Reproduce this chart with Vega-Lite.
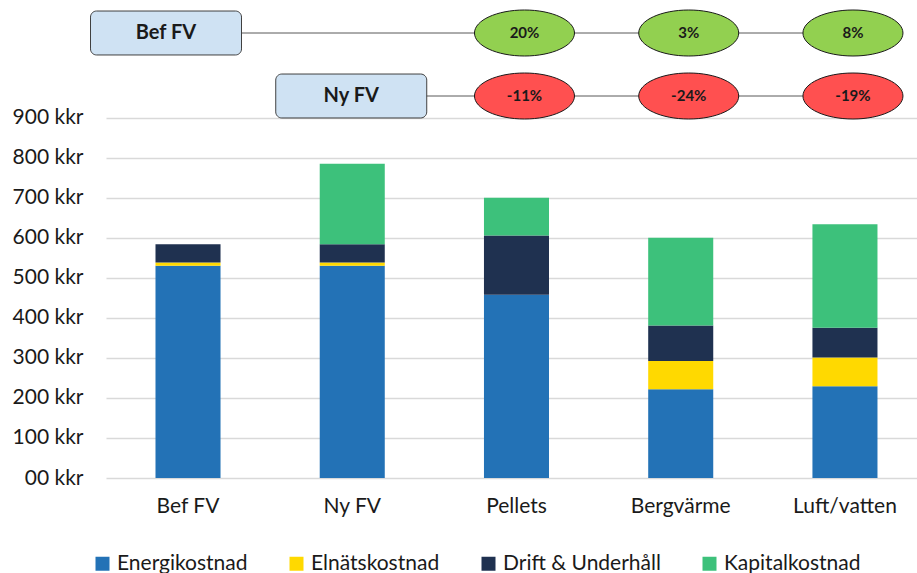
{
  "$schema": "https://vega.github.io/schema/vega-lite/v6.json",
  "width": 811,
  "height": 478,
  "autosize": {"type": "none"},
  "padding": {"left": 106, "top": 0, "right": 0, "bottom": 95},
  "background": "white",
  "config": {"font": "Lato", "view": {"stroke": null}},
  "datasets": {
    "bars": [
      {"cat": "Bef FV", "komp": "Energikostnad", "ord": 1, "kkr": 530},
      {"cat": "Bef FV", "komp": "Elnätskostnad", "ord": 2, "kkr": 8},
      {"cat": "Bef FV", "komp": "Drift & Underhåll", "ord": 3, "kkr": 46},
      {"cat": "Bef FV", "komp": "Kapitalkostnad", "ord": 4, "kkr": 0},
      {"cat": "Ny FV", "komp": "Energikostnad", "ord": 1, "kkr": 530},
      {"cat": "Ny FV", "komp": "Elnätskostnad", "ord": 2, "kkr": 8},
      {"cat": "Ny FV", "komp": "Drift & Underhåll", "ord": 3, "kkr": 46},
      {"cat": "Ny FV", "komp": "Kapitalkostnad", "ord": 4, "kkr": 201},
      {"cat": "Pellets", "komp": "Energikostnad", "ord": 1, "kkr": 458},
      {"cat": "Pellets", "komp": "Elnätskostnad", "ord": 2, "kkr": 0},
      {"cat": "Pellets", "komp": "Drift & Underhåll", "ord": 3, "kkr": 148},
      {"cat": "Pellets", "komp": "Kapitalkostnad", "ord": 4, "kkr": 94},
      {"cat": "Bergvärme", "komp": "Energikostnad", "ord": 1, "kkr": 222},
      {"cat": "Bergvärme", "komp": "Elnätskostnad", "ord": 2, "kkr": 70},
      {"cat": "Bergvärme", "komp": "Drift & Underhåll", "ord": 3, "kkr": 89},
      {"cat": "Bergvärme", "komp": "Kapitalkostnad", "ord": 4, "kkr": 219},
      {"cat": "Luft/vatten", "komp": "Energikostnad", "ord": 1, "kkr": 229},
      {"cat": "Luft/vatten", "komp": "Elnätskostnad", "ord": 2, "kkr": 72},
      {"cat": "Luft/vatten", "komp": "Drift & Underhåll", "ord": 3, "kkr": 74},
      {"cat": "Luft/vatten", "komp": "Kapitalkostnad", "ord": 4, "kkr": 259}
    ],
    "boxes": [
      {"row": "Bef FV", "label": "Bef FV"},
      {"row": "Ny FV", "label": "Ny FV"}
    ],
    "ann": [
      {"row": "Bef FV", "cat": "Pellets", "label": "20%"},
      {"row": "Bef FV", "cat": "Bergvärme", "label": "3%"},
      {"row": "Bef FV", "cat": "Luft/vatten", "label": "8%"},
      {"row": "Ny FV", "cat": "Pellets", "label": "-11%"},
      {"row": "Ny FV", "cat": "Bergvärme", "label": "-24%"},
      {"row": "Ny FV", "cat": "Luft/vatten", "label": "-19%"}
    ]
  },
  "resolve": {"scale": {"y": "independent"}},
  "layer": [
    {
      "data": {"name": "bars"},
      "mark": {"type": "bar"},
      "encoding": {
        "x": {
          "field": "cat", "type": "nominal", "title": null,
          "scale": {"domain": ["Bef FV", "Ny FV", "Pellets", "Bergvärme", "Luft/vatten"], "paddingInner": 0.604, "paddingOuter": 0.271, "align": 0.556},
          "axis": {"labelAngle": 0, "domain": false, "ticks": false, "labelPadding": 17, "labelFontSize": 21, "labelColor": "#1a1a1a"}
        },
        "y": {
          "field": "kkr", "type": "quantitative", "stack": "zero", "title": null,
          "scale": {"domain": [0, 1194], "nice": false},
          "axis": {
            "values": [0, 100, 200, 300, 400, 500, 600, 700, 800, 900],
            "labelExpr": "datum.value == 0 ? '00 kkr' : datum.value + ' kkr'",
            "domain": false, "ticks": false, "labelPadding": 23, "labelFontSize": 21, "labelColor": "#1a1a1a",
            "gridColor": "#d9d9d9", "gridWidth": 1.5
          }
        },
        "color": {
          "field": "komp", "type": "nominal", "title": null,
          "scale": {"domain": ["Energikostnad", "Elnätskostnad", "Drift & Underhåll", "Kapitalkostnad"], "range": ["#2372b6", "#ffd900", "#1f3150", "#3dc17b"]},
          "legend": {"orient": "none", "legendX": -14, "legendY": 553, "direction": "horizontal", "symbolType": "square", "symbolSize": 196, "symbolStrokeWidth": 0, "labelFontSize": 21, "labelLimit": 400, "labelColor": "#1a1a1a", "columnPadding": 38, "labelOffset": 4}
        },
        "order": {"field": "ord", "type": "quantitative"}
      }
    },
    {
      "data": {"name": "boxes"},
      "mark": {"type": "rule", "color": "#595959", "strokeWidth": 1},
      "encoding": {
        "x": {"field": "row", "type": "nominal", "title": null, "scale": {"domain": ["Bef FV", "Ny FV", "Pellets", "Bergvärme", "Luft/vatten"]}},
        "x2": {"datum": "Luft/vatten"},
        "y": {"field": "row", "type": "nominal", "axis": null, "scale": {"type": "point", "domain": ["Bef FV", "Ny FV"], "range": [33, 96], "padding": 0}}
      }
    },
    {
      "data": {"name": "boxes"},
      "transform": [{"filter": "datum.row === 'Bef FV'"}],
      "mark": {"type": "point", "filled": true, "fill": "#cfe2f3", "stroke": "#404040", "strokeWidth": 1, "opacity": 1, "size": 22801, "xOffset": -22,
        "shape": "M-0.92,-0.291 H0.92 A0.08,0.08 0 0 1 1,-0.211 V0.211 A0.08,0.08 0 0 1 0.92,0.291 H-0.92 A0.08,0.08 0 0 1 -1,0.211 V-0.211 A0.08,0.08 0 0 1 -0.92,-0.291 Z"},
      "encoding": {
        "x": {"field": "row", "type": "nominal", "title": null, "scale": {"domain": ["Bef FV", "Ny FV", "Pellets", "Bergvärme", "Luft/vatten"]}},
        "y": {"field": "row", "type": "nominal", "axis": null, "scale": {"type": "point", "domain": ["Bef FV", "Ny FV"], "range": [33, 96], "padding": 0}}
      }
    },
    {
      "data": {"name": "boxes"},
      "transform": [{"filter": "datum.row === 'Ny FV'"}],
      "mark": {"type": "point", "filled": true, "fill": "#cfe2f3", "stroke": "#404040", "strokeWidth": 1, "opacity": 1, "size": 22801, "xOffset": -1,
        "shape": "M-0.92,-0.291 H0.92 A0.08,0.08 0 0 1 1,-0.211 V0.211 A0.08,0.08 0 0 1 0.92,0.291 H-0.92 A0.08,0.08 0 0 1 -1,0.211 V-0.211 A0.08,0.08 0 0 1 -0.92,-0.291 Z"},
      "encoding": {
        "x": {"field": "row", "type": "nominal", "title": null, "scale": {"domain": ["Bef FV", "Ny FV", "Pellets", "Bergvärme", "Luft/vatten"]}},
        "y": {"field": "row", "type": "nominal", "axis": null, "scale": {"type": "point", "domain": ["Bef FV", "Ny FV"], "range": [33, 96], "padding": 0}}
      }
    },
    {
      "data": {"name": "boxes"},
      "transform": [{"filter": "datum.row === 'Bef FV'"}],
      "mark": {"type": "text", "font": "Lato", "fontWeight": "bold", "fontSize": 20, "color": "#1a1a1a", "xOffset": -22, "baseline": "middle"},
      "encoding": {
        "x": {"field": "row", "type": "nominal", "title": null, "scale": {"domain": ["Bef FV", "Ny FV", "Pellets", "Bergvärme", "Luft/vatten"]}},
        "y": {"field": "row", "type": "nominal", "axis": null, "scale": {"type": "point", "domain": ["Bef FV", "Ny FV"], "range": [33, 96], "padding": 0}},
        "text": {"field": "label"}
      }
    },
    {
      "data": {"name": "boxes"},
      "transform": [{"filter": "datum.row === 'Ny FV'"}],
      "mark": {"type": "text", "font": "Lato", "fontWeight": "bold", "fontSize": 20, "color": "#1a1a1a", "xOffset": -1, "baseline": "middle"},
      "encoding": {
        "x": {"field": "row", "type": "nominal", "title": null, "scale": {"domain": ["Bef FV", "Ny FV", "Pellets", "Bergvärme", "Luft/vatten"]}},
        "y": {"field": "row", "type": "nominal", "axis": null, "scale": {"type": "point", "domain": ["Bef FV", "Ny FV"], "range": [33, 96], "padding": 0}},
        "text": {"field": "label"}
      }
    },
    {
      "data": {"name": "ann"},
      "mark": {"type": "point", "filled": true, "stroke": "#1a1a1a", "strokeWidth": 1, "opacity": 1, "size": 10000, "xOffset": 8,
        "shape": "M-1,0 A1,0.46 0 1,1 1,0 A1,0.46 0 1,1 -1,0 Z"},
      "encoding": {
        "x": {"field": "cat", "type": "nominal", "title": null, "scale": {"domain": ["Bef FV", "Ny FV", "Pellets", "Bergvärme", "Luft/vatten"]}},
        "y": {"field": "row", "type": "nominal", "axis": null, "scale": {"type": "point", "domain": ["Bef FV", "Ny FV"], "range": [33, 96], "padding": 0}},
        "fill": {"condition": {"test": "datum.row === 'Bef FV'", "value": "#92d050"}, "value": "#ff5050"}
      }
    },
    {
      "data": {"name": "ann"},
      "mark": {"type": "text", "font": "Lato", "fontWeight": "bold", "fontSize": 15, "color": "#1a1a1a", "xOffset": 8, "baseline": "middle"},
      "encoding": {
        "x": {"field": "cat", "type": "nominal", "title": null, "scale": {"domain": ["Bef FV", "Ny FV", "Pellets", "Bergvärme", "Luft/vatten"]}},
        "y": {"field": "row", "type": "nominal", "axis": null, "scale": {"type": "point", "domain": ["Bef FV", "Ny FV"], "range": [33, 96], "padding": 0}},
        "text": {"field": "label"}
      }
    }
  ]
}
